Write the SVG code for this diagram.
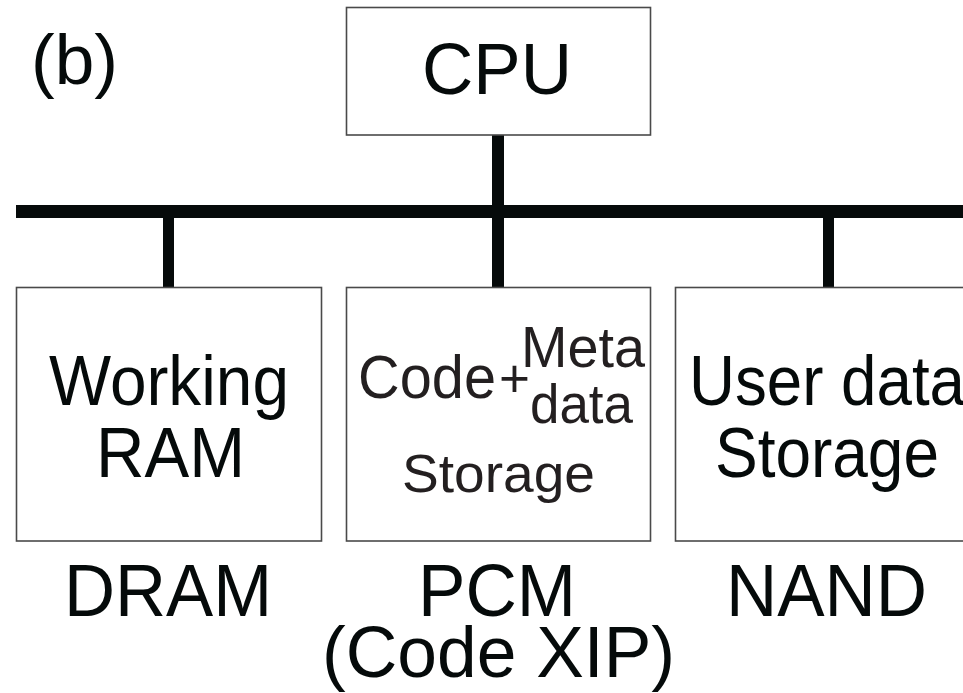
<svg xmlns="http://www.w3.org/2000/svg" width="963" height="693" viewBox="0 0 963 693">
<style>
.box{fill:#fff;stroke:#4a4a4a;stroke-width:1.6}
.t{font-family:"Liberation Sans",Arial,sans-serif;fill:#050a0a}
.t2{font-family:"Liberation Sans",Arial,sans-serif;fill:#231f20}
.bus{fill:#060a0a}
</style>
<rect width="963" height="693" fill="#fff"/>
<text class="t" x="31" y="84" font-size="71" textLength="87" lengthAdjust="spacingAndGlyphs">(b)</text>
<g id="connectors">
<rect class="bus" x="16" y="205" width="947" height="13"/>
<rect class="bus" x="492" y="135" width="12" height="152"/>
<rect class="bus" x="163" y="218" width="11" height="69"/>
<rect class="bus" x="823" y="218" width="11" height="69"/>
</g>
<g id="cpu">
<rect class="box" x="346.5" y="7.5" width="304" height="127.5"/>
<text class="t" x="422" y="94" font-size="73" textLength="150" lengthAdjust="spacingAndGlyphs">CPU</text>
</g>
<g id="dram">
<rect class="box" x="16.5" y="287.5" width="305" height="253.5"/>
<text class="t" x="49" y="405" font-size="70" textLength="240" lengthAdjust="spacingAndGlyphs">Working</text>
<text class="t" x="96" y="477" font-size="70" textLength="149" lengthAdjust="spacingAndGlyphs">RAM</text>
<text class="t" x="64" y="616" font-size="74" textLength="208" lengthAdjust="spacingAndGlyphs">DRAM</text>
</g>
<g id="pcm">
<rect class="box" x="346.5" y="287.5" width="304" height="253.5"/>
<text class="t2" x="358" y="398" font-size="62" textLength="138" lengthAdjust="spacingAndGlyphs">Code</text>
<text class="t2" x="499" y="397" font-size="53">+</text>
<text class="t2" x="521" y="367" font-size="58" textLength="124" lengthAdjust="spacingAndGlyphs">Meta</text>
<text class="t2" x="530" y="423" font-size="56" textLength="103" lengthAdjust="spacingAndGlyphs">data</text>
<text class="t2" x="402" y="492" font-size="54" textLength="193" lengthAdjust="spacingAndGlyphs">Storage</text>
<text class="t" x="418" y="616" font-size="74" textLength="158" lengthAdjust="spacingAndGlyphs">PCM</text>
<text class="t" x="322" y="677" font-size="72" textLength="353" lengthAdjust="spacingAndGlyphs">(Code XIP)</text>
</g>
<g id="nand">
<rect class="box" x="675.5" y="287.5" width="300" height="253.5"/>
<text class="t" x="689" y="405" font-size="70" textLength="276" lengthAdjust="spacingAndGlyphs">User data</text>
<text class="t" x="715" y="477" font-size="70" textLength="224" lengthAdjust="spacingAndGlyphs">Storage</text>
<text class="t" x="726" y="616" font-size="74" textLength="201" lengthAdjust="spacingAndGlyphs">NAND</text>
</g>
</svg>
